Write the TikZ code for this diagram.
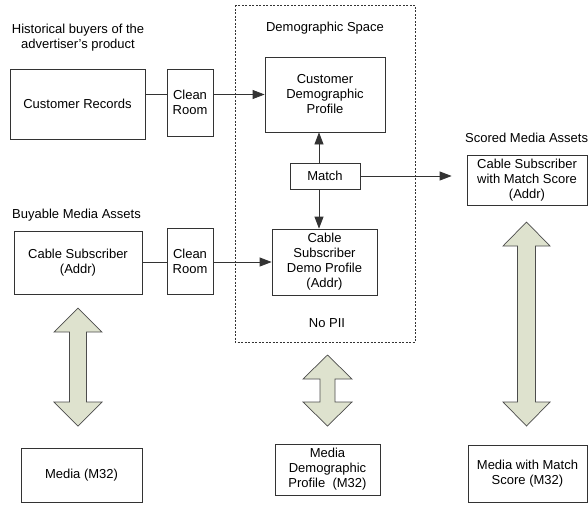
\documentclass[tikz,border=0pt]{standalone}
\usepackage{fontspec}
\setmainfont{Liberation Sans}
\usetikzlibrary{arrows.meta, positioning}
\definecolor{fatfill}{RGB}{222,226,206}

% big two-headed arrow: centre x, top y, bottom y, half head, half shaft, head length
\newcommand{\fatdarrow}[6]{%
  \draw[fat] (#1,#2) -- (#1+#4,#2+#6) -- (#1+#5,#2+#6) -- (#1+#5,#3-#6)
    -- (#1+#4,#3-#6) -- (#1,#3) -- (#1-#4,#3-#6) -- (#1-#5,#3-#6)
    -- (#1-#5,#2+#6) -- (#1-#4,#2+#6) -- cycle;}

\begin{document}
\begin{tikzpicture}[x=1pt, y=-1pt,
    font=\fontsize{13}{15}\selectfont,
    box/.style={draw=black!80, line width=0.8pt, align=center, inner sep=1pt},
    lbl/.style={align=center, inner sep=0pt},
    ln/.style={draw=black!80, line width=0.8pt},
    arr/.style={ln, -{Triangle[length=12pt, width=9pt]}},
    fat/.style={draw=black!70, line width=0.7pt, fill=fatfill}]
  \useasboundingbox (0,0) rectangle (588,504);
  % demographic space
  \draw[black!80, line width=0.7pt, dash pattern=on 2pt off 1.5pt] (235,5) rectangle (415,342);
  \node[lbl] (hist) at (78,38) {Historical buyers of the\\advertiser’s product};
  \node[lbl] (demo) at (325,28) {Demographic Space};
  \node[lbl, anchor=west] (scoredlbl) at (465,138) {Scored Media Assets};
  \node[lbl, anchor=west] (buylbl) at (12,215) {Buyable Media Assets};
  \node[lbl] (nopii) at (327,323) {No PII};
  % boxes
  \node[box, minimum width=135, minimum height=70] (rec) at (77.5,104) {Customer Records};
  \node[box, minimum width=46, minimum height=67] (clean1) at (190,102.5) {Clean\\Room};
  \node[box, minimum width=120, minimum height=75] (cdp) at (325,94.5) {Customer\\Demographic\\Profile};
  \node[box, minimum width=70, minimum height=26] (match) at (325,176) {Match};
  \node[box, minimum width=105, minimum height=66] (csdp) at (324.5,262) {Cable\\Subscriber\\Demo Profile\\(Addr)};
  \node[box, minimum width=120, minimum height=50] (scored) at (527,180) {Cable Subscriber\\with Match Score\\(Addr)};
  \node[box, minimum width=128, minimum height=63] (cab) at (78,262.5) {Cable Subscriber\\(Addr)};
  \node[box, minimum width=46, minimum height=66] (clean2) at (190,261) {Clean\\Room};
  \node[box, minimum width=121, minimum height=54] (media) at (81.5,475) {Media (M32)};
  \node[box, minimum width=105, minimum height=51] (mdp) at (327.5,469.5) {Media\\Demographic\\Profile~~(M32)};
  \node[box, minimum width=119, minimum height=57] (mms) at (527.5,473.5) {Media with Match\\Score (M32)};
  % connectors
  \draw[ln] (rec.east |- cdp) -- (clean1.west |- cdp);
  \draw[arr] (clean1.east |- cdp) -- (cdp.west);
  \draw[ln] (cab.east |- csdp) -- (clean2.west |- csdp);
  \draw[arr] (clean2.east |- csdp) -- (csdp.west);
  \draw[arr] ([xshift=-6pt]match.north) -- ([xshift=-6pt]match.north |- cdp.south);
  \draw[arr] ([xshift=-6pt]match.south) -- ([xshift=-6pt]match.south |- csdp.north);
  \draw[arr, shorten >=15pt] (match.east) -- (match.east -| scored.west);
  % fat arrows
  \fatdarrow{78}{308}{426}{24}{8.5}{24}
  \fatdarrow{327.5}{355}{426}{24.5}{7.5}{24}
  \fatdarrow{526.5}{222}{426}{23.5}{9}{24}
\end{tikzpicture}
\end{document}
